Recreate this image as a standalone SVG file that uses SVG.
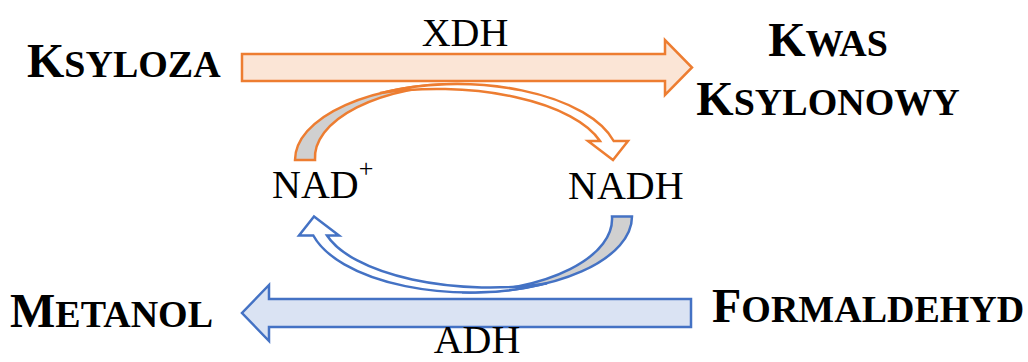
<svg xmlns="http://www.w3.org/2000/svg" width="1028" height="362" viewBox="0 0 1028 362" xmlns:xlink="http://www.w3.org/1999/xlink">
  <style>
    .lbl { font-family: "Liberation Serif", "Times New Roman", serif; fill: #000; }
    .big { font-weight: bold; font-size: 48px; }
    .sc { font-size: 54.86px; font-variant: small-caps; }
    .enz { font-size: 40px; }
    .orange { stroke: #ED7D31; }
    .blue { stroke: #4472C4; }
    .band { fill: #D0D0D0; stroke-width: 2.5; stroke-linejoin: miter; }
    .shaft { fill: #FFFFFF; stroke-width: 2.5; stroke-linejoin: miter; }
  </style>
  <defs>
    <path id="grey-band" d="M295,160 A162,76 0 0 1 465,84.2 A155,73.5 0 0 0 315,160 Z"/>
    <path id="arc-shaft" d="M380,93.1 A162,76 0 0 1 613.7,141 L628,141 L613,160 L588,141 L600,141 A169.4,71 0 0 0 380,93.1 Z"/>
  </defs>
  <g id="connectors">
    <path id="xdh-arrow" d="M242,54 L665,54 L665,40 L692,67.5 L665,95 L665,81 L242,81 Z" fill="#FBE5D6" stroke="#ED7D31" stroke-width="2.5"/>
    <text class="lbl enz" x="465" y="46" text-anchor="middle">XDH</text>
    <path id="adh-arrow" d="M691,299 L269,299 L269,285 L242,313 L269,341 L269,327 L691,327 Z" fill="#DAE3F3" stroke="#4472C4" stroke-width="2.5"/>
    <text class="lbl enz" x="477" y="353" text-anchor="middle">ADH</text>
    <g id="nad-to-nadh" class="orange">
      <use xlink:href="#grey-band" class="band"/>
      <use xlink:href="#arc-shaft" class="shaft"/>
    </g>
    <g id="nadh-to-nad" class="blue" transform="rotate(180 463.5 188.25)">
      <use xlink:href="#grey-band" class="band"/>
      <use xlink:href="#arc-shaft" class="shaft"/>
    </g>
  </g>
  <g id="ksyloza">
    <text class="lbl big" x="27" y="77">K<tspan class="sc">syloza</tspan></text>
  </g>
  <g id="kwas-ksylonowy">
    <text class="lbl big" x="828" y="56" text-anchor="middle">K<tspan class="sc">was</tspan></text>
    <text class="lbl big" x="828" y="115" text-anchor="middle">K<tspan class="sc">sylonowy</tspan></text>
  </g>
  <g id="metanol">
    <text class="lbl big" x="10" y="327">M<tspan class="sc">etanol</tspan></text>
  </g>
  <g id="formaldehyd">
    <text class="lbl big" x="712" y="322">F<tspan class="sc">ormaldehyd</tspan></text>
  </g>
  <g id="nad">
    <text class="lbl enz" x="272" y="198">NAD<tspan font-size="26" dy="-21">+</tspan></text>
  </g>
  <g id="nadh">
    <text class="lbl enz" x="568" y="199">NADH</text>
  </g>
</svg>
